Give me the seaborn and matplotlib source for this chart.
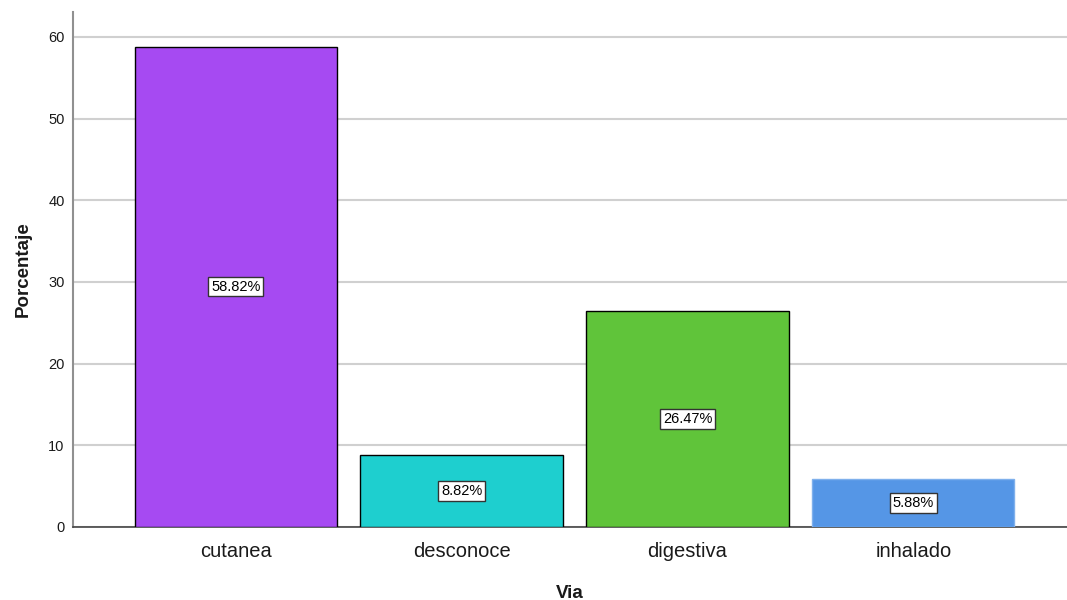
import matplotlib.pyplot as plt
import seaborn as sns
import pandas as pd

categorias = ["cutanea", "desconoce", "digestiva", "inhalado"]
porcentajes = [58.82, 8.82, 26.47, 5.88]
colores = ["#A64AF2", "#1ECFCF", "#60C43A", "#5596E6"]
bordes = ["black", "black", "black", "#7FB0EC"]

df = pd.DataFrame({"Via": categorias, "Porcentaje": porcentajes})

sns.set_style("white")
plt.rcParams['font.family'] = ['Liberation Sans', 'DejaVu Sans']

fig = plt.figure(figsize=(10.67, 6), dpi=100)
ax = fig.add_axes([73 / 1067, 73 / 600, 994 / 1067, 515 / 600])

sns.barplot(data=df, x="Via", y="Porcentaje", hue="Via", palette=colores,
            legend=False, width=0.895, saturation=1, ax=ax, zorder=3)
for patch, ec in zip(ax.patches, bordes):
    patch.set_edgecolor(ec)
    patch.set_linewidth(1.0)

for i, v in enumerate(porcentajes):
    ax.text(i, v / 2, f"{v:.2f}%", ha='center', va='center', fontsize=10.5,
            color='black', zorder=5,
            bbox=dict(boxstyle='square,pad=0.18', facecolor='white',
                      edgecolor='#333333', linewidth=1))

ax.set_ylim(0, 63.06)
ax.set_xlim(-0.72, 3.68)
ax.set_yticks([0, 10, 20, 30, 40, 50, 60])
ax.yaxis.grid(True, color='#D0D0D0', linewidth=1.5, zorder=0)
ax.set_axisbelow(True)

ax.tick_params(axis='x', length=0, labelsize=14.5, pad=11, colors='#1a1a1a')
ax.tick_params(axis='y', length=0, labelsize=10.5, pad=6, colors='#1a1a1a')
ax.set_xlabel("Via", fontsize=13.5, fontweight='bold', labelpad=17,
              color='#1a1a1a')
ax.set_ylabel("Porcentaje", fontsize=13.5, fontweight='bold', labelpad=12,
              color='#1a1a1a')

sns.despine(ax=ax, top=True, right=True)
ax.spines['left'].set_color('#909090')
ax.spines['left'].set_linewidth(1.5)
ax.spines['bottom'].set_color('#444444')
ax.spines['bottom'].set_linewidth(1.2)

fig.savefig("out.png", dpi=100)
